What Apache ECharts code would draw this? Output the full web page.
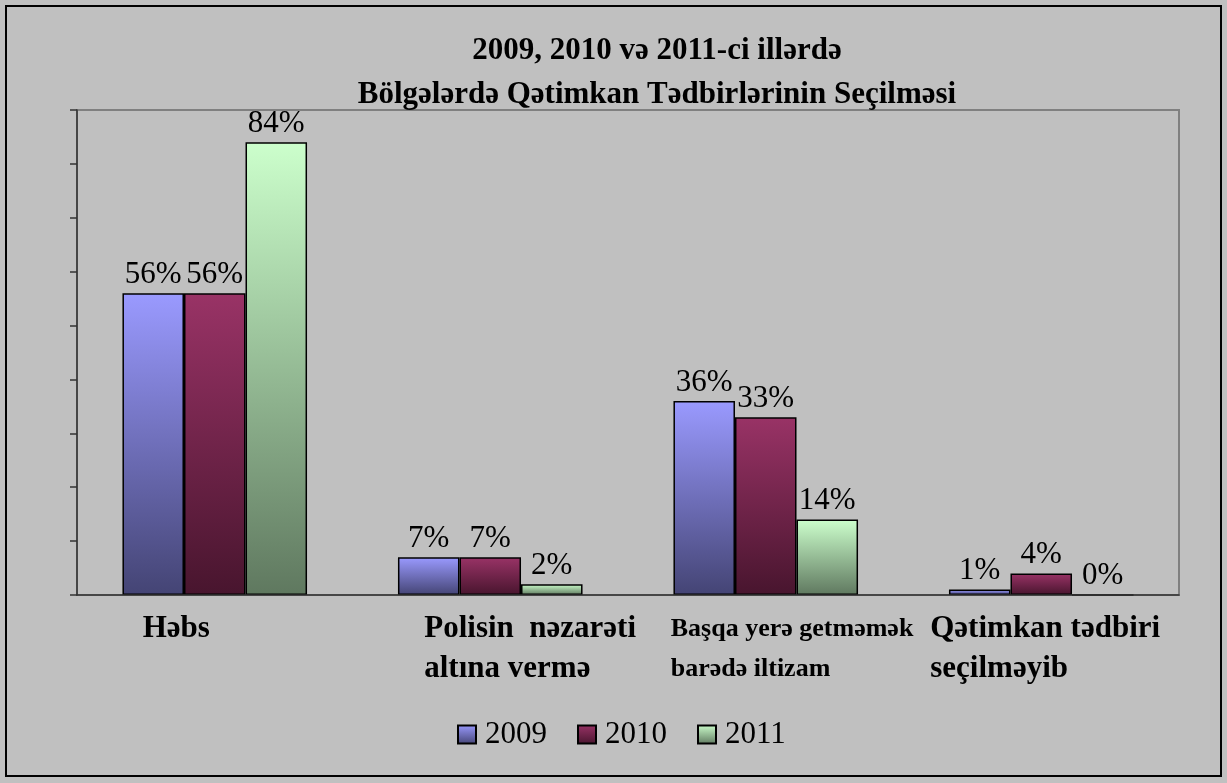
<!DOCTYPE html>
<html>
<head>
<meta charset="utf-8">
<script src="https://cdn.jsdelivr.net/npm/echarts@6/dist/echarts.min.js"></script>
<style>
html,body{margin:0;padding:0;background:#c0c0c0;}
#chart{width:1227px;height:783px;}
</style>
</head>
<body>
<div id="chart"></div>
<script>
// ---- data ----
const titleLines = ['2009, 2010 və 2011-ci illərdə', 'Bölgələrdə Qətimkan Tədbirlərinin Seçilməsi'];
const categories = ['Həbs', 'Polisin  nəzarəti\naltına vermə', 'Başqa yerə getməmək\nbarədə iltizam', 'Qətimkan tədbiri\nseçilməyib'];
const seriesNames = ['2009', '2010', '2011'];
const values2009 = [56, 7, 36, 1];
const values2010 = [56, 7, 33, 4];
const values2011 = [84, 2, 14, 0];
const yTicks = [0, 10, 20, 30, 40, 50, 60, 70, 80, 90];

// ---- styles ----
const FONT = "'Liberation Serif', 'Times New Roman', serif";
const grads = [
  ['#9a9aff', '#444474'],
  ['#993366', '#48152e'],
  ['#ccffcc', '#5f785f']
];
const labelBoxW = [144, 132, 190, 222];
const labelSize = [31, 31, 26, 31];

const chart = echarts.init(document.getElementById('chart'), null, {renderer: 'canvas'});

const rich = {};
categories.forEach((c, i) => {
  rich['c' + i] = {
    width: labelBoxW[i], align: 'left', fontFamily: FONT, fontWeight: 'bold',
    fontSize: labelSize[i], lineHeight: 40, color: '#000'
  };
});

function mkSeries(name, data, idx) {
  return {
    name: name,
    type: 'bar',
    data: data,
    barGap: '0%',
    barCategoryGap: '33%',
    itemStyle: {
      color: new echarts.graphic.LinearGradient(0, 0, 0, 1, [
        {offset: 0, color: grads[idx][0]},
        {offset: 1, color: grads[idx][1]}
      ]),
      borderColor: '#000',
      borderWidth: 1.5
    },
    label: {
      show: true, position: 'top', distance: 3,
      formatter: '{c}%',
      fontFamily: FONT, fontSize: 31, color: '#000'
    },
    emphasis: {disabled: true}
  };
}

chart.setOption({
  backgroundColor: '#c0c0c0',
  animation: false,
  title: {
    text: titleLines.join('\n'),
    left: 652, top: 24, textAlign: 'center',
    textStyle: {fontFamily: FONT, fontWeight: 'bold', fontSize: 31, lineHeight: 44, color: '#000'}
  },
  legend: {
    data: seriesNames,
    left: 452, top: 714,
    icon: 'rect', itemWidth: 18, itemHeight: 18, itemGap: 30,
    textStyle: {fontFamily: FONT, fontSize: 31, color: '#000', padding: [0, 0, 0, 4]}
  },
  grid: {
    left: 77, top: 110, right: 48, bottom: 188,
    show: true, borderColor: '#808080', borderWidth: 2, backgroundColor: 'transparent',
    outerBoundsMode: 'none', containLabel: false
  },
  xAxis: {
    type: 'category',
    data: categories,
    axisLine: {show: true, lineStyle: {color: '#333', width: 1.5}},
    axisTick: {show: false},
    axisLabel: {
      interval: 0, margin: 14, align: 'center', verticalAlign: 'top',
      formatter: function (v, i) {
        return v.split('\n').map(l => '{c' + i + '|' + l + '}').join('\n');
      },
      rich: rich
    },
    z: 10
  },
  yAxis: {
    type: 'value',
    min: yTicks[0], max: yTicks[yTicks.length - 1], interval: yTicks[1] - yTicks[0],
    axisLine: {show: true, lineStyle: {color: '#333', width: 1.5}},
    axisTick: {show: true, inside: false, length: 7, lineStyle: {color: '#333', width: 1.5}},
    axisLabel: {show: false},
    splitLine: {show: false},
    z: 10
  },
  series: [
    mkSeries(seriesNames[0], values2009, 0),
    mkSeries(seriesNames[1], values2010, 1),
    mkSeries(seriesNames[2], values2011, 2)
  ],
  graphic: [{
    type: 'rect', silent: true, z: 100,
    shape: {x: 6, y: 6, width: 1215, height: 770},
    style: {fill: null, stroke: '#000', lineWidth: 2}
  }]
});
</script>
</body>
</html>
